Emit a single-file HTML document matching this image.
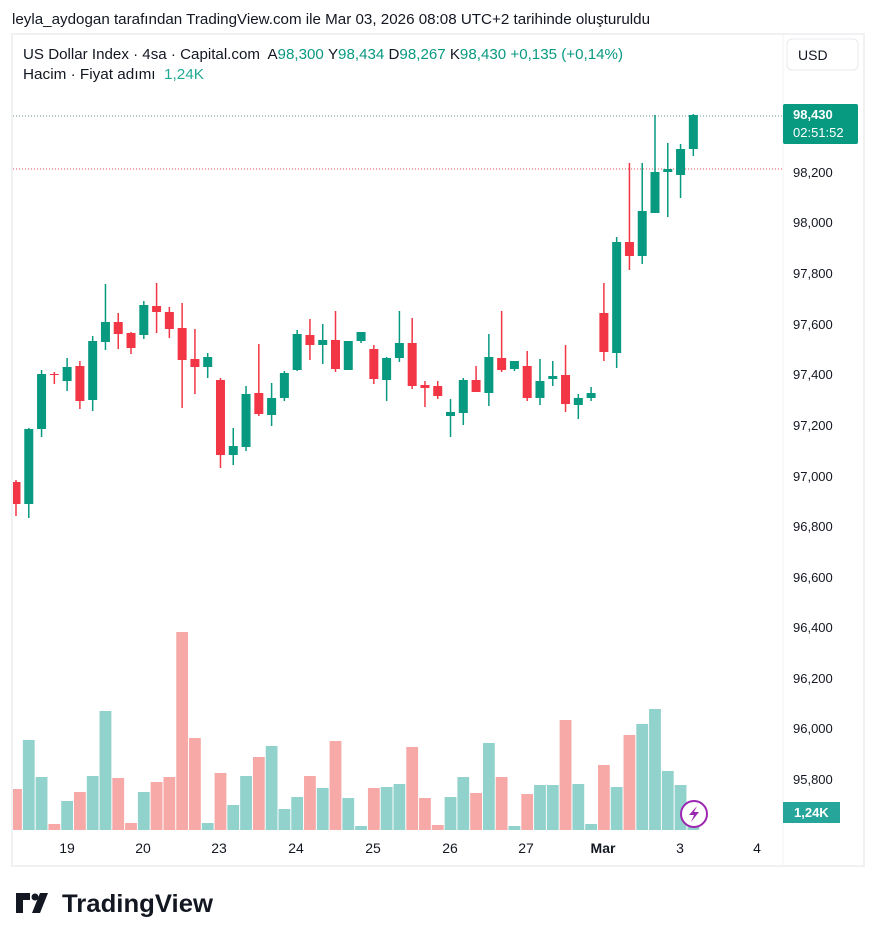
<!DOCTYPE html>
<html><head><meta charset="utf-8"><style>
body{margin:0;background:#fff;width:877px;height:941px;overflow:hidden;font-family:"Liberation Sans","DejaVu Sans",sans-serif}
svg text{font-family:"Liberation Sans","DejaVu Sans",sans-serif}
</style></head><body>
<svg id="s" width="877" height="941" xmlns="http://www.w3.org/2000/svg">
<rect x="0" y="0" width="877" height="941" fill="#fff"/>
<text x="12" y="24" font-size="14.5" fill="#131722" textLength="638" lengthAdjust="spacingAndGlyphs">leyla_aydogan tarafından TradingView.com ile Mar 03, 2026 08:08 UTC+2 tarihinde oluşturuldu</text>
<rect x="12" y="34" width="852" height="832" fill="none" stroke="#f0f1f3" stroke-width="2"/>
<line x1="783" y1="35" x2="783" y2="865" stroke="#f3f3f3"/>
<g id="vol"></g>
<line x1="13" y1="116" x2="783" y2="116" stroke="#6a8f88" stroke-dasharray="1,2"/>
<line x1="13" y1="169" x2="783" y2="169" stroke="#e05060" stroke-dasharray="1,2"/>
<g id="c"></g>
<text x="23" y="59" font-size="14.5" fill="#131722" textLength="600" lengthAdjust="spacingAndGlyphs">US Dollar Index · 4sa · Capital.com <tspan dx="4">A</tspan><tspan fill="#089981">98,300</tspan><tspan dx="4">Y</tspan><tspan fill="#089981">98,434</tspan><tspan dx="4">D</tspan><tspan fill="#089981">98,267</tspan><tspan dx="4">K</tspan><tspan fill="#089981">98,430</tspan><tspan dx="4" fill="#089981">+0,135 (+0,14%)</tspan></text>
<text x="23" y="79" font-size="14.5" fill="#131722" textLength="181" lengthAdjust="spacingAndGlyphs">Hacim · Fiyat adımı <tspan dx="4" fill="#22ab94">1,24K</tspan></text>
<rect x="787" y="39" width="71" height="31" rx="5" fill="#fff" stroke="#e8e9ec"/>
<text x="798" y="60" font-size="14" fill="#131722">USD</text>
<g font-size="13" fill="#131722">
<text x="793" y="177">98,200</text><text x="793" y="227">98,000</text><text x="793" y="278">97,800</text>
<text x="793" y="329">97,600</text><text x="793" y="379">97,400</text><text x="793" y="430">97,200</text>
<text x="793" y="481">97,000</text><text x="793" y="531">96,800</text><text x="793" y="582">96,600</text>
<text x="793" y="632">96,400</text><text x="793" y="683">96,200</text><text x="793" y="733">96,000</text>
<text x="793" y="784">95,800</text>
</g>
<rect x="783" y="104" width="75" height="40" rx="2" fill="#089981"/>
<text x="793" y="119" font-size="13" font-weight="bold" fill="#fff">98,430</text>
<text x="793" y="137" font-size="13" fill="#fff">02:51:52</text>
<rect x="783" y="802" width="57" height="21" fill="#26a69a"/>
<text x="794" y="817" font-size="13" font-weight="bold" fill="#fff">1,24K</text>
<circle cx="694" cy="814" r="13" fill="#fff" stroke="#9c27b0" stroke-width="2"/>
<path d="M697 806 L689 815 L694 815 L691 822 L699 812 L694 812 Z" fill="#9c27b0"/>
<g font-size="14" fill="#131722" text-anchor="middle">
<text x="67" y="853">19</text><text x="143" y="853">20</text><text x="219" y="853">23</text>
<text x="296" y="853">24</text><text x="373" y="853">25</text><text x="450" y="853">26</text>
<text x="526" y="853">27</text><text x="603" y="853" font-weight="bold">Mar</text>
<text x="680" y="853">3</text><text x="757" y="853">4</text>
</g>
<g fill="#131722">
<path d="M16 893 h14 v7 h-7 v13 h-7 z"/>
<circle cx="35" cy="897" r="3.5"/>
<path d="M40 893 h8 l-8 20 h-8 z"/>
</g>
<text x="62" y="912" font-size="25" font-weight="bold" fill="#131722" textLength="151" lengthAdjust="spacingAndGlyphs">TradingView</text>
</svg>
<script>
var C=[[482,504,480,516,0],[504,429,428,518,1],[429,374,370,437,1],[374,375,372,384,0],[381,367,358,391,1],[366,401,361,409,0],[400,341,336,411,1],[342,322,284,350,1],[322,334,313,349,0],[333,348,332,354,0],[335,305,301,339,1],[306,312,283,333,0],[312,329,307,338,0],[328,360,303,408,0],[359,367,329,394,0],[367,357,353,378,1],[380,455,378,468,0],[455,446,428,465,1],[447,394,386,451,1],[393,414,344,416,0],[415,398,383,426,1],[398,373,371,401,1],[370,334,330,371,1],[335,345,319,360,0],[345,340,324,364,1],[340,369,311,372,0],[370,341,341,370,1],[341,332,332,343,1],[349,379,345,384,0],[380,358,357,401,1],[358,343,311,362,1],[343,386,318,389,0],[385,388,381,407,0],[386,396,381,399,0],[416,412,399,437,1],[413,380,378,425,1],[380,392,366,392,0],[393,357,334,406,1],[358,370,311,372,0],[369,361,361,371,1],[366,398,351,401,0],[398,381,359,405,1],[379,376,361,386,1],[375,404,345,412,0],[405,398,394,419,1],[398,393,387,401,1],[313,352,283,361,0],[353,242,237,368,1],[242,256,163,270,0],[256,211,163,264,1],[213,172,115,213,1],[172,169,143,217,1],[175,149,144,198,1],[149,115,114,156,1]];
var V=[789,740,777,824,801,792,776,711,778,823,792,782,777,632,738,823,773,805,776,757,746,809,797,776,788,741,798,826,788,787,784,747,798,825,797,777,793,743,777,826,794,785,785,720,784,824,765,787,735,724,709,771,785,826];
var ns="http://www.w3.org/2000/svg",cg=document.getElementById('c'),vg=document.getElementById('vol');
function r(g,x,y,w,h,f){var e=document.createElementNS(ns,'rect');e.setAttribute('x',x);e.setAttribute('y',y);e.setAttribute('width',w);e.setAttribute('height',Math.max(h,1));e.setAttribute('fill',f);g.appendChild(e);}
for(var i=0;i<C.length;i++){var x=16+i*12.78,c=C[i],col=c[4]?'#089981':'#f23645';
var xl=Math.max(13,x-4.5);
r(cg,x-0.75,c[2],1.5,c[3]-c[2],col);var t=Math.min(c[0],c[1]),b=Math.max(c[0],c[1]);r(cg,xl,t,x+4.5-xl,b-t,col);
var vx=Math.max(13,x-5.9);r(vg,vx,V[i],x+5.9-vx,830-V[i],c[4]?'#92d2cc':'#f7a9a7');}
</script>
</body></html>
